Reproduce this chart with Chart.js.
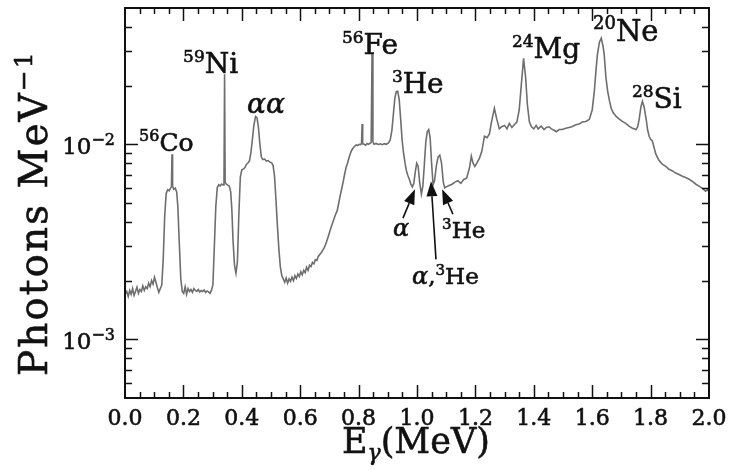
<!DOCTYPE html>
<html><head><meta charset="utf-8">
<script src="https://cdn.jsdelivr.net/npm/chart.js@4.4.1/dist/chart.umd.min.js"></script>
<style>html,body{margin:0;padding:0;background:#fff;}canvas{display:block;}</style>
</head><body>
<canvas id="c" width="731" height="470"></canvas>
<script>
// ---- data ----
const energies = [
0.000,0.006,0.011,0.016,0.021,0.026,0.031,0.036,0.041,0.046,0.051,0.056,0.061,0.066,0.071,0.076,0.081,0.086,0.091,0.096,
0.101,0.106,0.111,0.116,0.121,0.126,0.131,0.136,0.141,0.146,0.151,0.156,0.159,0.161,0.163,0.167,0.172,0.177,0.181,0.186,
0.191,0.196,0.201,0.206,0.211,0.216,0.221,0.226,0.231,0.236,0.241,0.246,0.251,0.256,0.261,0.266,0.271,0.276,0.281,0.286,
0.291,0.296,0.301,0.306,0.311,0.316,0.321,0.326,0.331,0.336,0.339,0.341,0.343,0.347,0.352,0.357,0.362,0.366,0.370,0.375,
0.380,0.385,0.390,0.395,0.400,0.406,0.411,0.416,0.421,0.426,0.431,0.436,0.441,0.447,0.452,0.457,0.462,0.467,0.472,0.478,
0.484,0.490,0.496,0.502,0.507,0.512,0.517,0.522,0.527,0.532,0.537,0.542,0.547,0.552,0.557,0.562,0.567,0.572,0.577,0.582,
0.587,0.592,0.597,0.602,0.607,0.612,0.617,0.622,0.627,0.632,0.637,0.642,0.647,0.652,0.657,0.662,0.667,0.672,0.677,0.682,
0.687,0.692,0.697,0.702,0.707,0.712,0.717,0.722,0.727,0.732,0.737,0.742,0.747,0.752,0.757,0.762,0.767,0.772,0.777,0.782,
0.787,0.792,0.797,0.802,0.807,0.810,0.812,0.814,0.819,0.824,0.829,0.834,0.839,0.843,0.846,0.849,0.853,0.860,0.867,0.874,
0.881,0.888,0.895,0.902,0.908,0.914,0.919,0.924,0.929,0.934,0.939,0.944,0.949,0.954,0.959,0.964,0.969,0.974,0.979,0.984,
0.989,0.994,0.999,1.004,1.009,1.015,1.020,1.025,1.030,1.035,1.040,1.045,1.050,1.055,1.060,1.066,1.072,1.078,1.084,1.090,
1.095,1.100,1.110,1.120,1.130,1.140,1.150,1.160,1.170,1.180,1.186,1.192,1.198,1.205,1.214,1.222,1.231,1.240,1.248,1.255,
1.265,1.273,1.282,1.290,1.300,1.308,1.316,1.325,1.333,1.342,1.350,1.357,1.365,1.372,1.378,1.385,1.392,1.400,1.408,1.415,
1.425,1.435,1.443,1.452,1.460,1.470,1.477,1.487,1.497,1.510,1.520,1.530,1.544,1.555,1.566,1.578,1.590,1.600,1.607,1.613,
1.618,1.625,1.631,1.637,1.641,1.647,1.653,1.660,1.665,1.672,1.682,1.692,1.703,1.715,1.726,1.738,1.750,1.756,1.761,1.767,
1.772,1.778,1.785,1.790,1.795,1.800,1.806,1.812,1.818,1.828,1.840,1.852,1.863,1.875,1.886,1.897,1.909,1.920,1.932,1.943,
1.955,1.966,1.977,1.988,1.995,2.000
];
const photons = [
0.00170,0.00176,0.00166,0.00178,0.00170,0.00182,0.00168,0.00176,0.00185,0.00172,0.00180,0.00176,0.00188,0.00178,0.00186,0.00182,0.00194,0.00186,0.00200,0.00192,
0.00208,0.00196,0.00184,0.00174,0.00182,0.00190,0.00260,0.00430,0.00560,0.00585,0.00578,0.00596,0.00605,0.00890,0.00610,0.00588,0.00596,0.00570,0.00480,0.00310,
0.00205,0.00176,0.00172,0.00186,0.00170,0.00182,0.00176,0.00180,0.00174,0.00182,0.00178,0.00176,0.00180,0.00175,0.00178,0.00176,0.00179,0.00174,0.00177,0.00175,
0.00172,0.00178,0.00190,0.00300,0.00480,0.00600,0.00620,0.00612,0.00625,0.00618,0.00630,0.02290,0.00640,0.00625,0.00618,0.00610,0.00570,0.00460,0.00320,0.00240,
0.00218,0.00250,0.00440,0.00680,0.00740,0.00748,0.00760,0.00790,0.00802,0.00820,0.00900,0.01050,0.01240,0.01390,0.01370,0.01220,0.01000,0.00860,0.00835,0.00840,
0.00820,0.00825,0.00810,0.00805,0.00780,0.00690,0.00520,0.00380,0.00290,0.00235,0.00212,0.00204,0.00196,0.00206,0.00194,0.00204,0.00198,0.00208,0.00200,0.00212,
0.00205,0.00216,0.00210,0.00222,0.00214,0.00226,0.00220,0.00234,0.00226,0.00240,0.00236,0.00248,0.00244,0.00256,0.00254,0.00266,0.00272,0.00278,0.00286,0.00294,
0.00306,0.00322,0.00340,0.00360,0.00380,0.00400,0.00420,0.00440,0.00458,0.00500,0.00545,0.00590,0.00640,0.00700,0.00760,0.00800,0.00850,0.00900,0.00935,0.00960,
0.00980,0.00992,0.00985,0.01000,0.00996,0.01010,0.01270,0.01005,0.01000,0.00990,0.01010,0.01000,0.01012,0.01020,0.02900,0.01030,0.01000,0.01010,0.00998,0.01005,
0.00995,0.01008,0.01000,0.01015,0.01050,0.01180,0.01420,0.01720,0.01860,0.01870,0.01700,0.01350,0.01050,0.00900,0.00800,0.00730,0.00690,0.00660,0.00625,0.00605,
0.00630,0.00720,0.00800,0.00770,0.00640,0.00555,0.00610,0.00780,0.01020,0.01160,0.01190,0.01080,0.00800,0.00620,0.00650,0.00770,0.00860,0.00880,0.00800,0.00640,
0.00598,0.00605,0.00615,0.00624,0.00640,0.00650,0.00630,0.00660,0.00670,0.00760,0.00870,0.00800,0.00770,0.00800,0.00850,0.00920,0.01100,0.01080,0.01130,0.01300,
0.01530,0.01350,0.01200,0.01230,0.01250,0.01200,0.01280,0.01220,0.01260,0.01300,0.01500,0.02000,0.02760,0.02200,0.01600,0.01300,0.01230,0.01200,0.01250,0.01200,
0.01240,0.01190,0.01220,0.01230,0.01200,0.01180,0.01160,0.01190,0.01190,0.01210,0.01220,0.01230,0.01260,0.01270,0.01300,0.01310,0.01340,0.01500,0.01850,0.02400,
0.02900,0.03350,0.03500,0.03200,0.02900,0.02200,0.01870,0.01650,0.01530,0.01450,0.01390,0.01350,0.01310,0.01280,0.01240,0.01210,0.01190,0.01230,0.01350,0.01560,
0.01660,0.01550,0.01340,0.01180,0.01100,0.01060,0.01040,0.00960,0.00890,0.00830,0.00790,0.00770,0.00744,0.00730,0.00712,0.00700,0.00686,0.00675,0.00662,0.00645,
0.00624,0.00610,0.00595,0.00575,0.00585,0.00570
];
const xTickValues = [0,0.2,0.4,0.6,0.8,1.0,1.2,1.4,1.6,1.8,2.0];
const xTickLabels = ['0.0','0.2','0.4','0.6','0.8','1.0','1.2','1.4','1.6','1.8','2.0'];
const yTickValues = [1e-3, 1e-2];
const yTickBase = '10';
const yTickExponents = ['\u22123','\u22122'];
const peakNames = ['Co','Ni','Fe','He','Mg','Ne','Si'];
const peakMass = ['56','59','56','3','24','20','28'];

// ---- layout of annotations (data coordinates) ----
const peakLabelPos = [
  {e:0.048, v:0.00921, size:25},
  {e:0.199, v:0.0231, size:28},
  {e:0.743, v:0.0290, size:28},
  {e:0.914, v:0.0183, size:28},
  {e:1.325, v:0.0276, size:28},
  {e:1.603, v:0.0337, size:29},
  {e:1.736, v:0.0153, size:28}
];
const serif = '"DejaVu Serif", serif';
Chart.defaults.font.family = serif;

function richWidth(ctx, parts){
  let w = 0;
  for (const p of parts){ ctx.font = (p.italic?'italic ':'') + p.size + 'px ' + serif; w += ctx.measureText(p.t).width; }
  return w;
}
function drawRich(ctx, x, y, parts, align){
  let w = richWidth(ctx, parts);
  let cx = align === 'right' ? x - w : align === 'center' ? x - w/2 : x;
  ctx.textAlign = 'left'; ctx.textBaseline = 'alphabetic';
  for (const p of parts){
    ctx.font = (p.italic?'italic ':'') + p.size + 'px ' + serif;
    ctx.lineWidth = 0.6;
    ctx.fillText(p.t, cx, y - (p.rise||0));
    ctx.strokeText(p.t, cx, y - (p.rise||0));
    cx += ctx.measureText(p.t).width;
  }
}
function arrow(ctx, x1, y1, x2, y2){
  const ang = Math.atan2(y2-y1, x2-x1), L = 15, W = 5.5;
  const bx = x2 - L*Math.cos(ang), by = y2 - L*Math.sin(ang);
  ctx.lineWidth = 1.6;
  ctx.beginPath(); ctx.moveTo(x1,y1); ctx.lineTo(bx,by); ctx.stroke();
  ctx.beginPath();
  ctx.moveTo(x2,y2);
  ctx.lineTo(bx + W*Math.sin(ang), by - W*Math.cos(ang));
  ctx.lineTo(bx - W*Math.sin(ang), by + W*Math.cos(ang));
  ctx.closePath(); ctx.fill();
}

const framePlugin = {
  id: 'frame',
  afterDraw(chart){
    const {ctx, chartArea:a, scales:{x, y}} = chart;
    ctx.save();
    ctx.fillStyle = '#111'; ctx.strokeStyle = '#111';
    // frame
    ctx.lineWidth = 2;
    ctx.strokeRect(a.left, a.top, a.right - a.left, a.bottom - a.top);
    // x ticks (inward, bottom and top)
    ctx.lineWidth = 1.5;
    for (let i = 1; i < 40; i++){
      const px = Math.round(x.getPixelForValue(i*0.05)) + 0.5;
      const len = (i % 4 === 0) ? 13 : 6;
      ctx.beginPath();
      ctx.moveTo(px, a.bottom); ctx.lineTo(px, a.bottom - len);
      ctx.moveTo(px, a.top); ctx.lineTo(px, a.top + len);
      ctx.stroke();
    }
    // y ticks (inward, left and right)
    for (let d = -4; d <= -2; d++){
      for (let m = 1; m <= 9; m++){
        const v = m * Math.pow(10, d);
        if (v < y.min*1.0001 || v > y.max*0.9999) continue;
        const py = Math.round(y.getPixelForValue(v)) + 0.5;
        const len = m === 1 ? 13 : 7;
        ctx.beginPath();
        ctx.moveTo(a.left, py); ctx.lineTo(a.left + len, py);
        ctx.moveTo(a.right, py); ctx.lineTo(a.right - len, py);
        ctx.stroke();
      }
    }
    // x tick labels
    xTickValues.forEach((v, i) => drawRich(ctx, x.getPixelForValue(v), a.bottom + 27, [{t:xTickLabels[i], size:22}], 'center'));
    // y tick labels
    yTickValues.forEach((v, i) => {
      const py = y.getPixelForValue(v);
      drawRich(ctx, a.left - 10, py + 10, [{t:yTickBase, size:23}, {t:yTickExponents[i], size:16, rise:9}], 'right');
    });
    // y title
    ctx.save();
    ctx.translate(47, 376);
    ctx.rotate(-Math.PI/2);
    if ('letterSpacing' in ctx) ctx.letterSpacing = '2px';
    drawRich(ctx, 0, 0, [{t:'Photons MeV', size:39}, {t:'\u22121', size:25, rise:15}], 'left');
    ctx.restore();
    // x title
    drawRich(ctx, 342, 453, [{t:'E', size:35}, {t:'\u03b3', size:22, italic:true, rise:-7}, {t:'(MeV)', size:35}], 'left');
    // peak labels
    peakNames.forEach((n, i) => {
      const p = peakLabelPos[i];
      drawRich(ctx, x.getPixelForValue(p.e), y.getPixelForValue(p.v),
        [{t:peakMass[i], size:Math.round(p.size*0.62), rise:Math.round(p.size*0.4)}, {t:n, size:p.size}], 'left');
    });
    drawRich(ctx, x.getPixelForValue(0.418), y.getPixelForValue(0.01442), [{t:'\u03b1\u03b1', size:28, italic:true}], 'left');
    // arrow labels
    drawRich(ctx, x.getPixelForValue(0.918), y.getPixelForValue(0.00338), [{t:'\u03b1', size:24, italic:true}], 'left');
    drawRich(ctx, x.getPixelForValue(1.086), y.getPixelForValue(0.00329), [{t:'3', size:15, rise:9}, {t:'He', size:23}], 'left');
    drawRich(ctx, x.getPixelForValue(0.983), y.getPixelForValue(0.00191), [{t:'\u03b1', size:24, italic:true}, {t:',', size:23}, {t:'3', size:15, rise:9}, {t:'He', size:23}], 'left');
    // arrows
    arrow(ctx, x.getPixelForValue(0.952), y.getPixelForValue(0.00418), x.getPixelForValue(0.993), y.getPixelForValue(0.00588));
    arrow(ctx, x.getPixelForValue(1.065), y.getPixelForValue(0.00257), x.getPixelForValue(1.048), y.getPixelForValue(0.00646));
    arrow(ctx, x.getPixelForValue(1.123), y.getPixelForValue(0.00438), x.getPixelForValue(1.086), y.getPixelForValue(0.00588));
    ctx.restore();
  }
};

new Chart(document.getElementById('c'), {
  type: 'line',
  data: { datasets: [{
    data: energies.map((e, i) => ({x: e, y: photons[i]})),
    borderColor: '#6e6e6e', borderWidth: 1.6, pointRadius: 0, tension: 0, fill: false
  }]},
  options: {
    responsive: false, animation: false, devicePixelRatio: 1,
    layout: { padding: { top: 8, right: 22, left: 0, bottom: 0 } },
    plugins: { legend: { display: false }, tooltip: { enabled: false } },
    scales: {
      x: { type: 'linear', min: 0, max: 2, grid: { display: false, drawTicks: false }, border: { display: false },
           ticks: { display: false }, afterFit(s){ s.height = 72; } },
      y: { type: 'logarithmic', min: 5e-4, max: 5e-2, grid: { display: false, drawTicks: false }, border: { display: false },
           ticks: { display: false }, afterFit(s){ s.width = 125; } }
    }
  },
  plugins: [framePlugin]
});
</script>
</body></html>
